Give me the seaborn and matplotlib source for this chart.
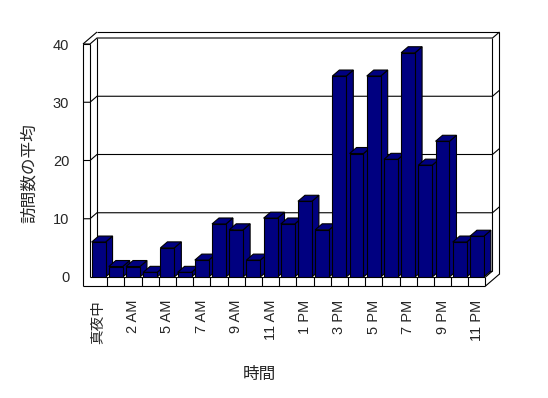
import matplotlib
matplotlib.use("Agg")
import matplotlib.pyplot as plt
from matplotlib.patches import Polygon
import seaborn as sns

# ---- data ----
hours = ["真夜中", "1 AM", "2 AM", "3 AM", "5 AM", "6 AM", "7 AM", "8 AM", "9 AM",
         "10 AM", "11 AM", "12 PM", "1 PM", "2 PM", "3 PM", "4 PM", "5 PM", "6 PM",
         "7 PM", "8 PM", "9 PM", "10 PM", "11 PM"]
visits = [6.0, 1.8, 1.8, 0.8, 5.0, 0.8, 2.9, 9.1, 8.1, 2.9, 10.1, 9.1, 13.0, 8.1,
          34.5, 21.2, 34.5, 20.2, 38.5, 19.2, 23.3, 6.0, 7.0]
yticks = [0, 10, 20, 30, 40]
ylabel = "訪問数の平均"
xlabel = "時間"

sns.set_style("white")
plt.rcParams["font.family"] = ["Liberation Sans", "Noto Sans CJK JP"]

W, H = 548, 398
fig = plt.figure(figsize=(W / 100, H / 100), dpi=100)
fig.patch.set_facecolor("white")

# front plane in pixels: x 90..485.5, y 277 (0) .. 44 (40)
ax = fig.add_axes([90 / W, (H - 277) / H, 395.5 / W, 233 / H])
ax.set_facecolor("none")

sns.barplot(x=hours, y=visits, color="#000080", saturation=1, width=0.81,
            edgecolor="black", linewidth=0.8, ax=ax)

L, R, T = -0.5, len(hours) - 0.5, 40
ax.set_xlim(L, R)
ax.set_ylim(0, T)

# depth offset in data units (~7px right, ~6px up)
dx = 7 / (395.5 / len(hours))
dy = 6 / (233 / 40)
Bo = -1.55  # floor front bottom

lw = 0.8
def line(xs, ys, z=1):
    ax.plot(xs, ys, color="black", lw=lw, clip_on=False, zorder=z,
            solid_capstyle="butt", solid_joinstyle="miter")

Lo = L - dx
# left wall
line([Lo, Lo], [Bo, T])
line([L, L], [0, T])
line([Lo, L], [T, T])
line([Lo, L + dx], [T, T + 2 * dy])
# back wall
line([L + dx, L + dx], [dy, T + dy])
line([L + dx, R + 2 * dx], [T + 2 * dy, T + 2 * dy])
line([R + dx, R + dx], [dy, T + dy])
line([R + 2 * dx, R + 2 * dx], [Bo + 2 * dy, T + 2 * dy])
line([L + dx, R + dx], [dy, dy])
# gridlines (with left wall / right wall joints)
for v in yticks[1:]:
    line([Lo, L, L + dx, R + dx, R + 2 * dx], [v, v, v + dy, v + dy, v + 2 * dy])
# floor
line([L, R], [0, 0], z=2)
line([Lo, R], [Bo, Bo], z=2)
line([R, R], [0, Bo], z=2)
line([R, R + dx], [0, dy], z=2)
line([R, R + 2 * dx], [Bo, Bo + 2 * dy], z=2)
for k in range(1, len(hours)):
    line([k - 0.5, k - 0.5], [0, Bo], z=2)

# 3D faces for bars
for i, p in enumerate(ax.patches):
    x0 = p.get_x()
    x1 = x0 + p.get_width()
    h = p.get_height()
    base = 3 + i * 0.01
    p.set_zorder(base + 0.005)
    side = Polygon([(x1, 0), (x1 + dx, dy), (x1 + dx, h + dy), (x1, h)],
                   closed=True, facecolor="#000080", edgecolor="black",
                   lw=lw, zorder=base, clip_on=False)
    top = Polygon([(x0, h), (x1, h), (x1 + dx, h + dy), (x0 + dx, h + dy)],
                  closed=True, facecolor="#000080", edgecolor="black",
                  lw=lw, zorder=base + 0.001, clip_on=False)
    ax.add_patch(side)
    ax.add_patch(top)

for s in ax.spines.values():
    s.set_visible(False)

ax.set_yticks(yticks)
ax.set_yticklabels([str(v) for v in yticks], fontsize=10.5)
ax.tick_params(axis="y", length=0, pad=15)

tick_pos = list(range(0, len(hours), 2))
ax.set_xticks(tick_pos)
ax.set_xticklabels([hours[i] for i in tick_pos], rotation=90, fontsize=10.5)
ax.tick_params(axis="x", length=0, pad=16.5)
ax.set_xlabel("")
ax.set_ylabel("")

fig.text(29 / W, 1 - 173 / H, ylabel, rotation=90, ha="center", va="center", fontsize=12)
fig.text(259 / W, 1 - 374 / H, xlabel, ha="center", va="center", fontsize=12)

fig.savefig("out.png", dpi=100, facecolor="white")
